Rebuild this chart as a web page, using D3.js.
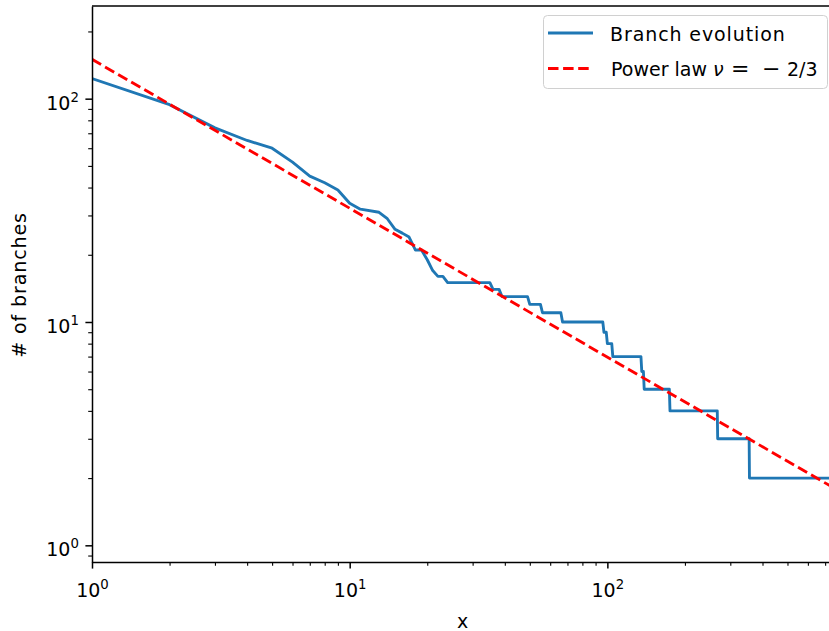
<!DOCTYPE html>
<html><head><meta charset="utf-8">
<script src="https://cdn.jsdelivr.net/npm/d3@7"></script>
<style>body{margin:0;background:#fff;overflow:hidden} text{font-family:"DejaVu Sans";}</style>
</head><body><svg id="c" width="829" height="631"></svg>
<script>
// ---- data ----
const branchX = [1, 2, 3, 4, 5, 6, 7, 8, 9, 10, 11, 13, 14, 15, 16, 17, 18, 19, 20, 21, 22, 23, 24, 35, 36, 38, 39, 49, 50, 55, 56, 66, 67, 96, 97, 99, 100, 104, 105, 135, 136, 138, 139, 174, 175, 267, 268, 355, 356, 750];
const branchY = [123, 94, 74, 65, 60, 52, 45, 42, 39, 34, 32, 31, 29, 26, 25, 24, 21, 21, 19, 17, 16, 16, 15, 15, 14, 14, 13, 13, 12, 12, 11, 11, 10, 10, 9, 9, 8, 8, 7, 7, 6, 6, 5, 5, 4, 4, 3, 3, 2, 2];
const powerLawC = 150;
const powerLawExp = -2 / 3;
const powerLawX = [1, 751];
const xMajorTicks = [1, 10, 100];
const yMajorTicks = [1, 10, 100];
const xDomain = [1, 751];
const yDomain = [0.842, 260];
const legendLabels = ["Branch evolution", "Power law"];
const xLabel = "x";
const yLabel = "# of branches";

// ---- layout ----
const L = 92, R = 833, T = 6, B = 562;
const FS = 19;
const svg = d3.select("#c");
const x = d3.scaleLog().domain(xDomain).range([L, R]);
const y = d3.scaleLog().domain(yDomain).range([B, T]);

function minorTicks(dom) {
  const out = [];
  const lo = Math.floor(Math.log10(dom[0])), hi = Math.ceil(Math.log10(dom[1]));
  for (let e = lo; e <= hi; e++) for (let m = 2; m <= 9; m++) {
    const v = m * Math.pow(10, e);
    if (v >= dom[0] && v <= dom[1]) out.push(v);
  }
  return out;
}

svg.append("clipPath").attr("id", "clip").append("rect")
  .attr("x", L).attr("y", T).attr("width", R - L).attr("height", B - T);

const plot = svg.append("g").attr("clip-path", "url(#clip)");

const pts = branchX.map((d, i) => [d, branchY[i]]);
plot.append("path").datum(pts)
  .attr("fill", "none").attr("stroke", "#1f77b4").attr("stroke-width", 2.85)
  .attr("stroke-linejoin", "round").attr("stroke-linecap", "square")
  .attr("d", d3.line().x(d => x(d[0])).y(d => y(d[1])));

const pl = powerLawX.map(v => [v, powerLawC * Math.pow(v, powerLawExp)]);
plot.append("path").datum(pl)
  .attr("fill", "none").attr("stroke", "#ff0000").attr("stroke-width", 2.85)
  .attr("stroke-dasharray", "10.5,4.6")
  .attr("d", d3.line().x(d => x(d[0])).y(d => y(d[1])));

function supLabels(sel) {
  sel.each(function (d) {
    const t = d3.select(this);
    const e = Math.round(Math.log10(d));
    t.text(null);
    t.append("tspan").text("10");
    t.append("tspan").attr("font-size", FS * 0.7).attr("dy", -FS * 0.42).text(e);
  });
}

// minor ticks
svg.append("g").attr("transform", `translate(0,${B})`)
  .call(d3.axisBottom(x).tickValues(minorTicks(xDomain)).tickSize(3.8).tickSizeOuter(0).tickFormat(""))
  .call(g => g.select(".domain").remove())
  .selectAll("line").attr("stroke-width", 1.1);
svg.append("g").attr("transform", `translate(${L},0)`)
  .call(d3.axisLeft(y).tickValues(minorTicks(yDomain)).tickSize(3.8).tickSizeOuter(0).tickFormat(""))
  .call(g => g.select(".domain").remove())
  .selectAll("line").attr("stroke-width", 1.1);

// major axes
const gx = svg.append("g").attr("transform", `translate(0,${B})`)
  .call(d3.axisBottom(x).tickValues(xMajorTicks).tickSize(6.6).tickSizeOuter(0).tickPadding(6.5).tickFormat(d => d));
gx.selectAll("line").attr("stroke-width", 1.5);
gx.select(".domain").attr("stroke-width", 1.5);
gx.selectAll("text").attr("font-size", FS).attr("fill", "#000").attr("font-family", "DejaVu Sans")
  .attr("dy", "1.15em").call(supLabels);

const gy = svg.append("g").attr("transform", `translate(${L},0)`)
  .call(d3.axisLeft(y).tickValues(yMajorTicks).tickSize(6.6).tickSizeOuter(0).tickPadding(6.5).tickFormat(d => d));
gy.selectAll("line").attr("stroke-width", 1.5);
gy.select(".domain").attr("stroke-width", 1.5);
gy.selectAll("text").attr("font-size", FS).attr("fill", "#000").attr("font-family", "DejaVu Sans")
  .attr("dy", "0.55em").call(supLabels);

// top & right spines
svg.append("line").attr("x1", L).attr("x2", R).attr("y1", T).attr("y2", T).attr("stroke", "#000").attr("stroke-width", 1.5);
svg.append("line").attr("x1", R).attr("x2", R).attr("y1", T).attr("y2", B).attr("stroke", "#000").attr("stroke-width", 1.5);

// axis labels
svg.append("text").attr("x", (L + R) / 2).attr("y", 628).attr("text-anchor", "middle")
  .attr("font-size", FS).text(xLabel);
svg.append("text").attr("transform", `translate(25.5,${(T + B) / 2 + 1}) rotate(-90)`)
  .attr("text-anchor", "middle").attr("font-size", FS).attr("letter-spacing", 0.9).text(yLabel);

// legend
const lg = svg.append("g");
lg.append("rect").attr("x", 543.5).attr("y", 15.5).attr("width", 284).attr("height", 73)
  .attr("rx", 4).attr("fill", "#fff").attr("fill-opacity", 0.8).attr("stroke", "#d0d0d0").attr("stroke-width", 1);
lg.append("line").attr("x1", 548).attr("x2", 593).attr("y1", 33).attr("y2", 33)
  .attr("stroke", "#1f77b4").attr("stroke-width", 2.85);
lg.append("line").attr("x1", 548).attr("x2", 593).attr("y1", 68.5).attr("y2", 68.5)
  .attr("stroke", "#ff0000").attr("stroke-width", 2.85).attr("stroke-dasharray", "10.5,4.6");
lg.append("text").attr("x", 610).attr("y", 41).attr("font-size", FS).attr("letter-spacing", 0.9).text(legendLabels[0]);
const t2 = lg.append("text").attr("x", 611).attr("y", 75.5).attr("font-size", FS);
t2.append("tspan").text(legendLabels[1]);
t2.append("tspan").attr("x", 713).attr("font-style", "italic").text("\u03BD");
t2.append("tspan").attr("x", 731).attr("font-size", 22).text("=");
t2.append("tspan").attr("x", 762).attr("font-size", 22).text("\u2212");
t2.append("tspan").attr("x", 787).text("2/3");
</script></body></html>
